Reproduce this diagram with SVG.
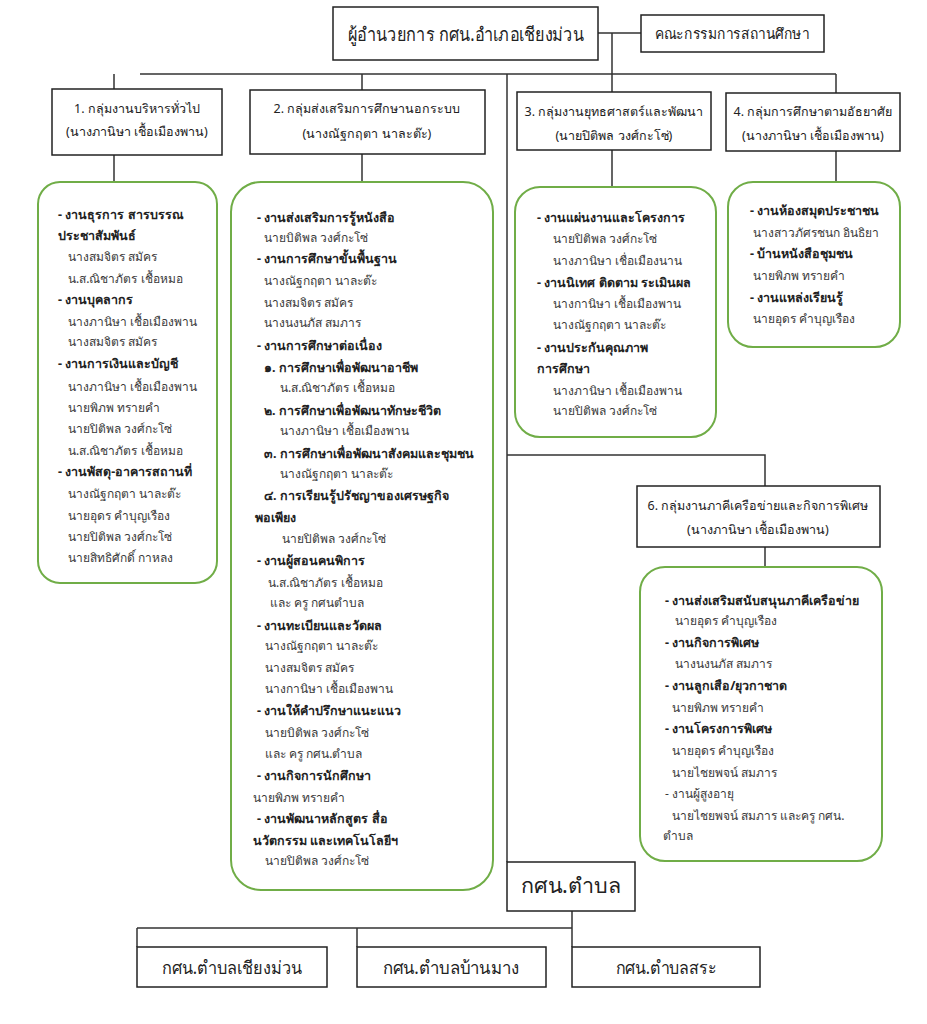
<svg xmlns="http://www.w3.org/2000/svg" width="927" height="1024" viewBox="0 0 927 1024">
<style>
text{font-family:"Noto Sans","DejaVu Sans","Liberation Sans",sans-serif;fill:#222}
.b{font-size:12.5px;font-weight:bold}
.n{font-size:12px;fill:#3a3a3a}
.h{font-size:12.5px;text-anchor:middle}
.t{font-size:19px;text-anchor:middle}
.m{font-size:14.5px;text-anchor:middle}
.s{font-size:18px;text-anchor:middle}
.box{fill:#fff;stroke:#222;stroke-width:1.5}
.g{fill:#fff;stroke:#70AD47;stroke-width:2}
.c{fill:none;stroke:#333;stroke-width:1.5}
</style>
<rect width="927" height="1024" fill="#fff"/>
<g id="connectors">
<path class="c" d="M598 33H641 M612 33V93 M140 74H836 M114 74V90 M362 74V91 M507 74V862 M836 74V93 M114 155V182 M362 154V182 M612 150V187 M836 151V182 M507 455H765V486 M765 547V567 M572 911V947 M137 928H572 M137 928V947 M357 928V947"/>
</g>
<g id="director"><rect class="box" x="333" y="7" width="265" height="53"/><text class="t" x="466" y="41" textLength="236" lengthAdjust="spacingAndGlyphs">ผู้อำนวยการ กศน.อำเภอเชียงม่วน</text></g>
<g id="committee"><rect class="box" x="641" y="15" width="183" height="37"/><text class="m" x="732" y="39" textLength="155" lengthAdjust="spacingAndGlyphs">คณะกรรมการสถานศึกษา</text></g>
<g id="group1"><rect class="box" x="52" y="89" width="170" height="66"/><text class="h" x="137" y="113">1. กลุ่มงานบริหารทั่วไป</text><text class="h" x="137" y="136">(นางภานิษา เชื้อเมืองพาน)</text></g>
<g id="group2"><rect class="box" x="250" y="90" width="235" height="64"/><text class="h" x="367" y="113">2. กลุ่มส่งเสริมการศึกษานอกระบบ</text><text class="h" x="367" y="138">(นางณัฐกฤตา  นาละต๊ะ)</text></g>
<g id="group3"><rect class="box" x="517" y="92" width="194" height="58"/><text class="h" x="614" y="116">3. กลุ่มงานยุทธศาสตร์และพัฒนา</text><text class="h" x="614" y="140">(นายปิติพล  วงศ์กะโซ่)</text></g>
<g id="group4"><rect class="box" x="726" y="93" width="174" height="58"/><text class="h" x="813" y="116">4. กลุ่มการศึกษาตามอัธยาศัย</text><text class="h" x="813" y="140">(นางภานิษา เชื้อเมืองพาน)</text></g>
<g id="group6"><rect class="box" x="637" y="486" width="243" height="61"/><text class="h" x="758" y="510">6. กลุ่มงานภาคีเครือข่ายและกิจการพิเศษ</text><text class="h" x="758" y="534">(นางภานิษา  เชื้อเมืองพาน)</text></g>
<g id="tasks1"><rect class="g" x="38" y="182" width="179" height="401" rx="22"/>
<text class="b" x="58" y="219">- งานธุรการ สารบรรณ</text>
<text class="b" x="58" y="240">ประชาสัมพันธ์</text>
<text class="n" x="68" y="261">นางสมจิตร สมัคร</text>
<text class="n" x="68" y="283">น.ส.ณิชาภัตร เชื้อหมอ</text>
<text class="b" x="58" y="304">- งานบุคลากร</text>
<text class="n" x="68" y="326">นางภานิษา เชื้อเมืองพาน</text>
<text class="n" x="68" y="346">นางสมจิตร สมัคร</text>
<text class="b" x="58" y="368">- งานการเงินและบัญชี</text>
<text class="n" x="68" y="391">นางภานิษา เชื้อเมืองพาน</text>
<text class="n" x="68" y="412">นายพิภพ ทรายคำ</text>
<text class="n" x="68" y="433">นายปิติพล วงศ์กะโซ่</text>
<text class="n" x="68" y="455">น.ส.ณิชาภัตร เชื้อหมอ</text>
<text class="b" x="58" y="476">- งานพัสดุ-อาคารสถานที่</text>
<text class="n" x="68" y="498">นางณัฐกฤตา นาละต๊ะ</text>
<text class="n" x="68" y="520">นายอุดร คำบุญเรือง</text>
<text class="n" x="68" y="541">นายปิติพล วงศ์กะโซ่</text>
<text class="n" x="68" y="562">นายสิทธิศักดิ์ กาหลง</text>
</g>
<g id="tasks2"><rect class="g" x="231" y="182" width="262" height="708" rx="30"/>
<text class="b" x="257" y="222">- งานส่งเสริมการรู้หนังสือ</text>
<text class="n" x="264" y="242">นายบิติพล วงศ์กะโซ่</text>
<text class="b" x="257" y="263">- งานการศึกษาขั้นพื้นฐาน</text>
<text class="n" x="264" y="285">นางณัฐกฤตา นาละต๊ะ</text>
<text class="n" x="264" y="307">นางสมจิตร สมัคร</text>
<text class="n" x="264" y="327">นางนงนภัส สมภาร</text>
<text class="b" x="257" y="350">- งานการศึกษาต่อเนื่อง</text>
<text class="b" x="264" y="372">๑. การศึกษาเพื่อพัฒนาอาชีพ</text>
<text class="n" x="280" y="392">น.ส.ณิชาภัตร เชื้อหมอ</text>
<text class="b" x="264" y="415">๒. การศึกษาเพื่อพัฒนาทักษะชีวิต</text>
<text class="n" x="280" y="435">นางภานิษา เชื้อเมืองพาน</text>
<text class="b" x="264" y="458">๓. การศึกษาเพื่อพัฒนาสังคมและชุมชน</text>
<text class="n" x="280" y="478">นางณัฐกฤตา นาละต๊ะ</text>
<text class="b" x="264" y="500">๔. การเรียนรู้ปรัชญาของเศรษฐกิจ</text>
<text class="b" x="255" y="522">พอเพียง</text>
<text class="n" x="282" y="543">นายปิติพล วงศ์กะโซ่</text>
<text class="b" x="257" y="565">- งานผู้สอนคนพิการ</text>
<text class="n" x="268" y="587">น.ส.ณิชาภัตร เชื้อหมอ</text>
<text class="n" x="270" y="607">และ ครู กศนตำบล</text>
<text class="b" x="257" y="630">- งานทะเบียนและวัดผล</text>
<text class="n" x="265" y="650">นางณัฐกฤตา นาละต๊ะ</text>
<text class="n" x="265" y="672">นางสมจิตร สมัคร</text>
<text class="n" x="265" y="693">นางกานิษา เชื้อเมืองพาน</text>
<text class="b" x="257" y="715">- งานให้คำปรึกษาแนะแนว</text>
<text class="n" x="265" y="737">นายบิติพล วงศ์กะโซ่</text>
<text class="n" x="265" y="758">และ ครู กศน.ตำบล</text>
<text class="b" x="257" y="780">- งานกิจการนักศึกษา</text>
<text class="n" x="253" y="802">นายพิภพ ทรายคำ</text>
<text class="b" x="257" y="823">- งานพัฒนาหลักสูตร สื่อ</text>
<text class="b" x="253" y="845">นวัตกรรม และเทคโนโลยีฯ</text>
<text class="n" x="265" y="865">นายปิติพล วงศ์กะโซ่</text>
</g>
<g id="tasks3"><rect class="g" x="515" y="187" width="201" height="250" rx="25"/>
<text class="b" x="537" y="222">- งานแผ่นงานและโครงการ</text>
<text class="n" x="553" y="243">นายปิติพล วงศ์กะโซ่</text>
<text class="n" x="553" y="265">นางภานิษา เชื่อเมืองนาน</text>
<text class="b" x="537" y="287">- งานนิเทศ ติดตาม ระเมินผล</text>
<text class="n" x="553" y="308">นางกานิษา เชื้อเมืองพาน</text>
<text class="n" x="553" y="329">นางณัฐกฤตา นาละต๊ะ</text>
<text class="b" x="537" y="352">- งานประกันคุณภาพ</text>
<text class="b" x="537" y="373">การศึกษา</text>
<text class="n" x="553" y="395">นางภานิษา เชื้อเมืองพาน</text>
<text class="n" x="553" y="415">นายปิติพล วงศ์กะโซ่</text>
</g>
<g id="tasks4"><rect class="g" x="728" y="182" width="172" height="165" rx="25"/>
<text class="b" x="750" y="215">- งานห้องสมุดประชาชน</text>
<text class="n" x="753" y="237">นางสาวภัศรชนก อินธิยา</text>
<text class="b" x="750" y="258">- บ้านหนังสือชุมชน</text>
<text class="n" x="753" y="280">นายพิภพ ทรายคำ</text>
<text class="b" x="750" y="302">- งานแหล่งเรียนรู้</text>
<text class="n" x="753" y="323">นายอุดร  คำบุญเรือง</text>
</g>
<g id="tasks6"><rect class="g" x="640" y="567" width="242" height="294" rx="25"/>
<text class="b" x="665" y="605">- งานส่งเสริมสนับสนุนภาคีเครือข่าย</text>
<text class="n" x="675" y="625">นายอุดร คำบุญเรือง</text>
<text class="b" x="665" y="647">- งานกิจการพิเศษ</text>
<text class="n" x="675" y="668">นางนงนภัส  สมภาร</text>
<text class="b" x="665" y="690">- งานลูกเสือ/ยุวกาชาด</text>
<text class="n" x="672" y="712">นายพิภพ  ทรายคำ</text>
<text class="b" x="665" y="733">- งานโครงการพิเศษ</text>
<text class="n" x="672" y="755">นายอุดร  คำบุญเรือง</text>
<text class="n" x="672" y="777">นายไชยพจน์  สมภาร</text>
<text class="n" x="665" y="798">- งานผู้สูงอายุ</text>
<text class="n" x="672" y="820">นายไชยพจน์  สมภาร และครู กศน.</text>
<text class="n" x="663" y="840">ตำบล</text>
</g>
<g id="subdistrict"><rect class="box" x="507" y="862" width="128" height="49"/><text class="s" x="571" y="893" font-size="21" textLength="100" lengthAdjust="spacingAndGlyphs" style="font-size:21px">กศน.ตำบล</text></g>
<g id="sd1"><rect class="box" x="137" y="947" width="190" height="40"/><text class="s" x="232" y="974" textLength="140" lengthAdjust="spacingAndGlyphs">กศน.ตำบลเชียงม่วน</text></g>
<g id="sd2"><rect class="box" x="357" y="947" width="189" height="40"/><text class="s" x="451" y="974" textLength="137" lengthAdjust="spacingAndGlyphs">กศน.ตำบลบ้านมาง</text></g>
<g id="sd3"><rect class="box" x="572" y="947" width="188" height="40"/><text class="s" x="666" y="974" textLength="101" lengthAdjust="spacingAndGlyphs">กศน.ตำบลสระ</text></g>
</svg>
